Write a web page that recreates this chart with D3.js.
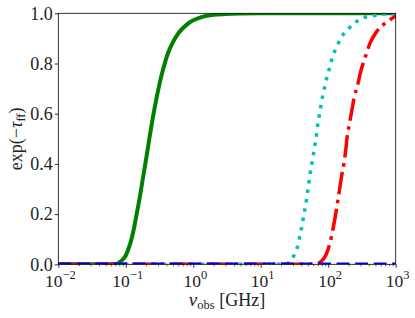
<!DOCTYPE html>
<html>
<head>
<meta charset="utf-8">
<script src="https://cdn.jsdelivr.net/npm/d3@7"></script>
<style>
html,body{margin:0;padding:0;background:#fff;}
svg{display:block;}
</style>
</head>
<body>
<svg id="chart" width="415" height="318"></svg>
<script>
// ---- data ----
const xTickValues = [0.01, 0.1, 1, 10, 100, 1000];
const xTickExponents = ["\u22122", "\u22121", "0", "1", "2", "3"];
const yTickValues = [0, 0.2, 0.4, 0.6, 0.8, 1.0];
const yTickLabels = ["0.0", "0.2", "0.4", "0.6", "0.8", "1.0"];

const greenNu = [0.01, 0.05, 0.065, 0.0766, 0.0869, 0.1, 0.109, 0.12, 0.129, 0.145, 0.162, 0.18, 0.199, 0.228, 0.25, 0.287, 0.32, 0.36, 0.427, 0.5, 0.6, 0.8, 1.0, 1.256, 1.6, 2, 3, 5, 10, 100, 1000];
const greenVal = [0, 0, 0.001, 0.004, 0.015, 0.035, 0.06, 0.095, 0.13, 0.2, 0.27, 0.345, 0.415, 0.515, 0.58, 0.665, 0.725, 0.78, 0.845, 0.885, 0.92, 0.955, 0.972, 0.983, 0.99, 0.994, 0.997, 0.999, 1, 1, 1];

const cyanNu = [0.01, 10, 20, 24, 27.1, 32.1, 35.9, 38.5, 41.2, 43.6, 46.3, 48.9, 51.3, 53.6, 56.8, 60, 63.5, 66.9, 69.7, 73.6, 78, 82.6, 89.3, 96.6, 105.9, 116.1, 133.1, 152.6, 191.1, 242.6, 330, 455, 653, 1000];
const cyanVal = [0, 0, 0, 0.002, 0.01, 0.044, 0.08, 0.12, 0.159, 0.199, 0.236, 0.279, 0.319, 0.356, 0.396, 0.435, 0.475, 0.515, 0.554, 0.592, 0.631, 0.67, 0.71, 0.75, 0.787, 0.827, 0.865, 0.9, 0.933, 0.96, 0.982, 0.99, 0.996, 0.998];

const redNu = [0.01, 40, 55, 63.5, 77.1, 92.4, 105.9, 118.5, 129.9, 145.5, 158, 170.9, 183, 191.1, 204.6, 222.2, 242.6, 272.7, 302.2, 349.9, 415, 521, 692, 918, 1000];
const redVal = [0, 0, 0, 0.001, 0.01, 0.037, 0.084, 0.145, 0.205, 0.289, 0.352, 0.402, 0.462, 0.51, 0.555, 0.608, 0.664, 0.714, 0.767, 0.821, 0.88, 0.927, 0.96, 0.983, 0.99];

const blueNu = [0.01, 1000];
const blueVal = [0, 0];

// ---- layout ----
const L = 58.3, R = 395.7, T = 13.3, B = 264.3;
const serif = "'Liberation Serif', 'DejaVu Serif', serif";

const svg = d3.select("#chart");
const x = d3.scaleLog().domain([0.01, 1000]).range([L, R]);
const y = d3.scaleLinear().domain([0, 1]).range([B, T]);

svg.append("defs").append("clipPath").attr("id", "clip")
  .append("rect").attr("x", L).attr("y", T).attr("width", R - L).attr("height", B - T);

const series = [
  {nu: greenNu, v: greenVal, color: "#008000", dash: null, w: 4},
  {nu: cyanNu, v: cyanVal, color: "#00bfbf", dash: "3.5,6", w: 3.5},
  {nu: redNu, v: redVal, color: "#ff0000", dash: "22.4,5.6,3.5,5.6", w: 3.5},
  {nu: blueNu, v: blueVal, color: "#0000ff", dash: "12.95,5.6", w: 3.5}
];

const line = d3.line().x(d => x(d[0])).y(d => y(d[1])).curve(d3.curveMonotoneX);
const g = svg.append("g").attr("clip-path", "url(#clip)");
series.forEach(s => {
  const pts = s.nu.map((n, i) => [n, s.v[i]]);
  g.append("path").attr("d", line(pts)).attr("fill", "none")
    .attr("stroke", s.color).attr("stroke-width", s.w)
    .attr("stroke-dasharray", s.dash).attr("stroke-linecap", "butt");
});

// ---- axes ----
const minorTicks = [];
for (let e = -2; e < 3; e++) for (let k = 2; k <= 9; k++) minorTicks.push(k * Math.pow(10, e));

const xAxis = svg.append("g").attr("transform", `translate(0,${B})`)
  .call(d3.axisBottom(x).tickValues(xTickValues).tickSize(3.5).tickPadding(4).tickFormat(() => ""));
xAxis.select(".domain").remove();
xAxis.selectAll(".tick line").attr("stroke", "#000").attr("stroke-width", 0.8);

const xMinor = svg.append("g").attr("transform", `translate(0,${B})`)
  .call(d3.axisBottom(x).tickValues(minorTicks).tickSize(2).tickFormat(() => ""));
xMinor.select(".domain").remove();
xMinor.selectAll(".tick line").attr("stroke", "#000").attr("stroke-width", 0.6);

// x tick labels with superscripts
xTickValues.forEach((v, i) => {
  const t = svg.append("text").attr("x", x(v) + 2).attr("y", 286.5)
    .attr("text-anchor", "middle").attr("font-family", serif).attr("font-size", 17.5).attr("fill", "#222");
  t.append("tspan").text("10");
  t.append("tspan").attr("dy", -7.5).attr("font-size", 12.5).text(xTickExponents[i]);
});

const yAxis = svg.append("g").attr("transform", `translate(${L},0)`)
  .call(d3.axisLeft(y).tickValues(yTickValues).tickSize(3.5).tickPadding(2)
    .tickFormat((d, i) => yTickLabels[i]));
yAxis.select(".domain").remove();
yAxis.selectAll(".tick line").attr("stroke", "#000").attr("stroke-width", 0.8);
yAxis.selectAll(".tick text").attr("font-family", serif).attr("font-size", 18).attr("fill", "#222")
  .attr("dy", "0.32em");

// spines
svg.append("rect").attr("x", L).attr("y", T).attr("width", R - L).attr("height", B - T)
  .attr("fill", "none").attr("stroke", "#000").attr("stroke-width", 0.8);

// axis labels
const xl = svg.append("text").attr("x", (L + R) / 2).attr("y", 306)
  .attr("text-anchor", "middle").attr("font-family", serif).attr("font-size", 18).attr("fill", "#222");
xl.append("tspan").attr("font-style", "italic").attr("font-size", 19).text("\u03BD");
xl.append("tspan").attr("dy", 3).attr("font-size", 12.5).text("obs");
xl.append("tspan").attr("dy", -3).text(" [GHz]");

const yl = svg.append("text").attr("transform", `translate(22,${(T + B) / 2}) rotate(-90)`)
  .attr("text-anchor", "middle").attr("font-family", serif).attr("font-size", 18).attr("fill", "#222");
yl.append("tspan").text("exp(\u2212");
yl.append("tspan").attr("font-style", "italic").text("\u03C4");
yl.append("tspan").attr("dy", 3).attr("font-size", 12.5).text("ff");
yl.append("tspan").attr("dy", -3).text(")");
</script>
</body>
</html>
